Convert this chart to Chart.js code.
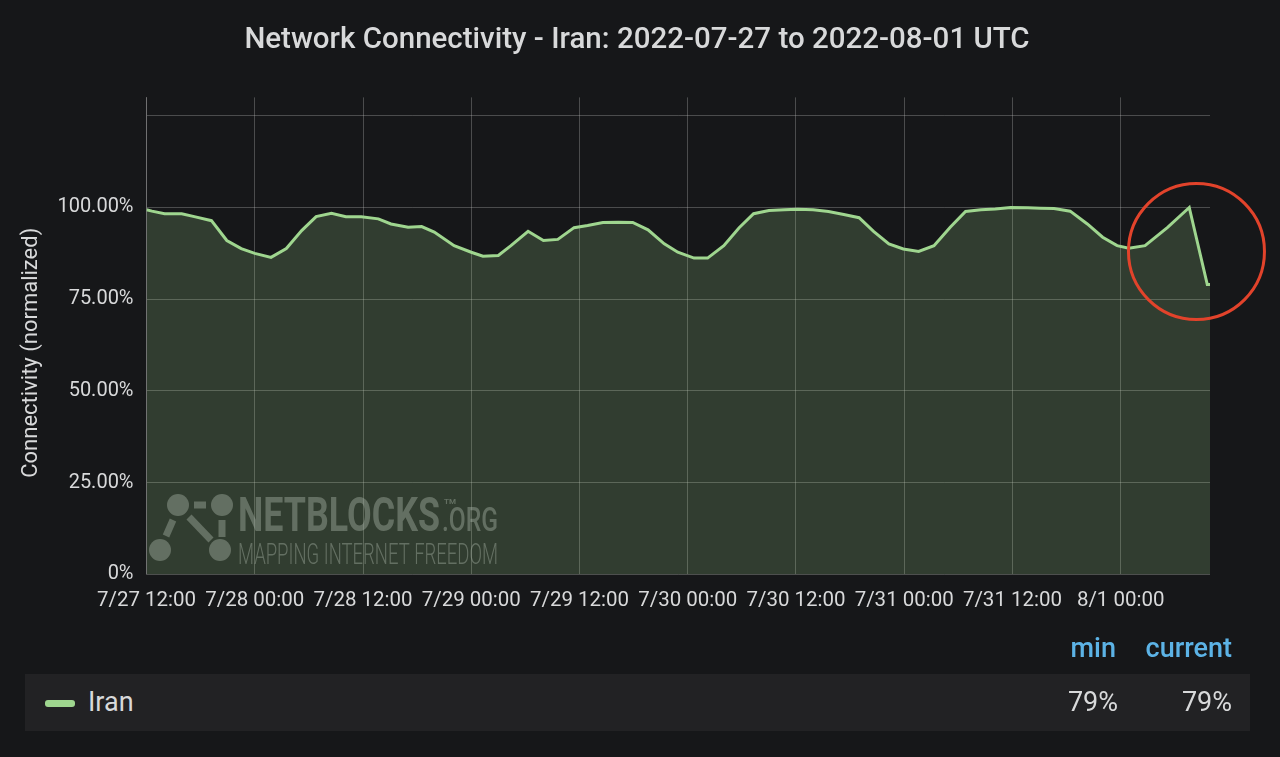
<!DOCTYPE html>
<html>
<head>
<meta charset="utf-8">
<script src="https://cdn.jsdelivr.net/npm/chart.js@4"></script>
<style>
  body { margin: 0; background: #161719; font-family: Roboto, sans-serif; width: 1280px; height: 757px; overflow: hidden; }
  #wrap { position: absolute; left: 0; top: 0; width: 1280px; height: 640px; }
  .heads { position: absolute; top: 632px; right: 48px; color: #5cb3e6; font-size: 27px; font-weight: 500; }
  .heads span { display: inline-block; text-align: right; }
  .row { position: absolute; left: 25px; top: 674px; width: 1225px; height: 57px; background: #222224; color: #d8d9da; font-size: 27px; }
  .swatch { position: absolute; left: 20px; top: 26px; width: 30px; height: 7px; border-radius: 3px; background: #9fd68f; }
  .name { position: absolute; left: 63px; top: 12px; }
  .val { position: absolute; top: 12px; text-align: right; }
</style>
</head>
<body>
<div id="wrap"><canvas id="connChart"></canvas></div>
<div class="heads"><span style="width:48px">min</span><span style="width:116px">current</span></div>
<div class="row">
  <div class="swatch"></div>
  <div class="name">Iran</div>
  <div class="val" id="minVal" style="right:132px"></div>
  <div class="val" id="curVal" style="right:18px"></div>
</div>
<script>
// horas desde 7/27 12:00 UTC
const hours = [0, 0.6, 2.0, 3.9, 5.3, 7.2, 8.9, 10.5, 12.0, 13.8, 15.5, 17.2, 18.8, 20.5, 22.1, 23.8, 25.7, 27.1, 29.0,
  30.5, 31.9, 34.1, 36.0, 37.3, 39.0, 40.4, 42.3, 44.0, 45.6, 47.4, 48.9, 50.6, 52.3, 53.9, 55.6, 57.4,
  58.9, 60.7, 62.2, 64.0, 65.7, 67.3, 69.0, 70.7, 72.2, 73.9, 75.6, 77.3, 79.0, 80.6, 82.3, 83.9, 85.6, 87.3,
  89.1, 90.8, 92.5, 94.1, 95.8, 97.7, 99.1, 100.6, 102.4, 104.3, 106.0, 107.6, 108.9, 110.7, 113.2, 115.6, 117.6, 117.9];
const connectivity = [99.4, 99.0, 98.3, 98.3, 97.5, 96.4, 91.0, 88.8, 87.5, 86.4, 88.8, 93.7, 97.5, 98.4, 97.5, 97.5, 96.9, 95.5, 94.6,
  94.8, 93.3, 89.6, 87.8, 86.7, 86.9, 89.6, 93.5, 91.0, 91.3, 94.5, 95.1, 95.9, 96.0, 95.9, 93.9, 90.1,
  87.8, 86.2, 86.2, 89.6, 94.5, 98.3, 99.2, 99.4, 99.5, 99.4, 98.9, 98.1, 97.2, 93.5, 90.1, 88.7, 88.0, 89.6,
  94.6, 98.9, 99.4, 99.6, 100.0, 99.9, 99.8, 99.7, 99.0, 95.5, 91.9, 89.6, 88.9, 89.6, 94.6, 100.0, 79.0, 79.0];
const xTickLabels = ["7/27 12:00", "7/28 00:00", "7/28 12:00", "7/29 00:00", "7/29 12:00",
  "7/30 00:00", "7/30 12:00", "7/31 00:00", "7/31 12:00", "8/1 00:00"];
const yTicks = [0, 25, 50, 75, 100, 125];

const points = hours.map((h, i) => ({ x: h, y: connectivity[i] }));

document.getElementById("minVal").textContent = Math.round(Math.min(...connectivity)) + "%";
document.getElementById("curVal").textContent = Math.round(connectivity[connectivity.length - 1]) + "%";

// marca de agua y círculo rojo
const overlay = {
  id: "overlay",
  afterDatasetsDraw(chart) {
    const c = chart.ctx;
    c.save();
    c.fillStyle = "rgba(170,180,170,0.42)";
    c.strokeStyle = "rgba(170,180,170,0.42)";
    [[178, 505, 11], [222, 505, 11], [160, 550, 11], [220, 550, 11]].forEach(([x, y, r]) => {
      c.beginPath(); c.arc(x, y, r, 0, Math.PI * 2); c.fill();
    });
    c.lineWidth = 7; c.lineCap = "butt";
    [[[194, 505], [206, 505]], [[173, 520], [166, 536]], [[189, 517], [211, 540]], [[222, 520], [222, 537]]].forEach(([a, b]) => {
      c.beginPath(); c.moveTo(a[0], a[1]); c.lineTo(b[0], b[1]); c.stroke();
    });
    const fitText = (txt, x, yBase, w, font) => {
      c.font = font;
      const m = c.measureText(txt).width;
      c.save(); c.translate(x, yBase); c.scale(w / m, 1); c.fillText(txt, 0, 0); c.restore();
    };
    c.textBaseline = "alphabetic";
    fitText("NETBLOCKS", 238, 531, 202, "bold 49px Roboto");
    fitText(".ORG", 442, 531, 56, "500 34px Roboto");
    fitText("TM", 444, 504, 12, "bold 8px Roboto");
    fitText("MAPPING INTERNET FREEDOM", 238, 564, 260, "300 30px Roboto");

    const xs = chart.scales.x, ys = chart.scales.y;
    c.strokeStyle = "#e2432b";
    c.lineWidth = 3;
    c.beginPath();
    c.arc(xs.getPixelForValue(116.4), ys.getPixelForValue(88), 68, 0, Math.PI * 2);
    c.stroke();
    c.restore();
  }
};

const gridColor = "rgba(190,190,190,0.32)";
const ctx = document.getElementById("connChart").getContext("2d");
new Chart(ctx, {
  type: "line",
  data: {
    datasets: [{
      label: "Iran",
      data: points,
      borderColor: "#9fd68f",
      backgroundColor: "rgba(158,214,140,0.2)",
      borderWidth: 3,
      pointRadius: 0,
      fill: "origin",
      tension: 0
    }]
  },
  options: {
    responsive: true,
    maintainAspectRatio: false,
    animation: false,
    layout: { padding: { left: 8, right: 14, top: 0, bottom: 13 } },
    scales: {
      x: {
        type: "linear",
        min: 0,
        max: 117.9,
        grid: { color: gridColor, drawTicks: false },
        border: { display: false },
        afterBuildTicks: (axis) => { axis.ticks = xTickLabels.map((_, i) => ({ value: i * 12 })); },
        ticks: {
          color: "#d8d9da",
          font: { family: "Roboto", size: 20.5 },
          padding: 14,
          maxRotation: 0,
          autoSkip: false,
          callback: (v) => xTickLabels[Math.round(v / 12)]
        }
      },
      y: {
        min: 0,
        max: 130,
        grid: { color: gridColor, drawTicks: false },
        border: { display: true, color: gridColor },
        afterBuildTicks: (axis) => { axis.ticks = yTicks.map((v) => ({ value: v })); },
        ticks: {
          color: "#d8d9da",
          font: { family: "Roboto", size: 20 },
          padding: 13,
          callback: (v) => v === 125 ? "" : (v === 0 ? "0%" : v.toFixed(2) + "%")
        },
        title: {
          display: true,
          text: "Connectivity (normalized)\u2003\u2002",
          color: "#d8d9da",
          font: { family: "Roboto", size: 22 },
          padding: { top: 10, bottom: 0 }
        }
      },
      // eje vacío a la derecha para reservar espacio y centrar el título
      yRight: {
        position: "right",
        min: 0,
        max: 130,
        grid: { display: false },
        border: { display: false },
        ticks: { display: false },
        afterFit: (axis) => { axis.width = 56; }
      }
    },
    plugins: {
      legend: { display: false },
      tooltip: { enabled: false },
      title: {
        display: true,
        text: "Network Connectivity - Iran: 2022-07-27 to 2022-08-01 UTC",
        color: "#d8d9da",
        font: { family: "Roboto", size: 29.5, weight: "500" },
        padding: { top: 23, bottom: 39 }
      }
    }
  },
  plugins: [overlay]
});
</script>
</body>
</html>
